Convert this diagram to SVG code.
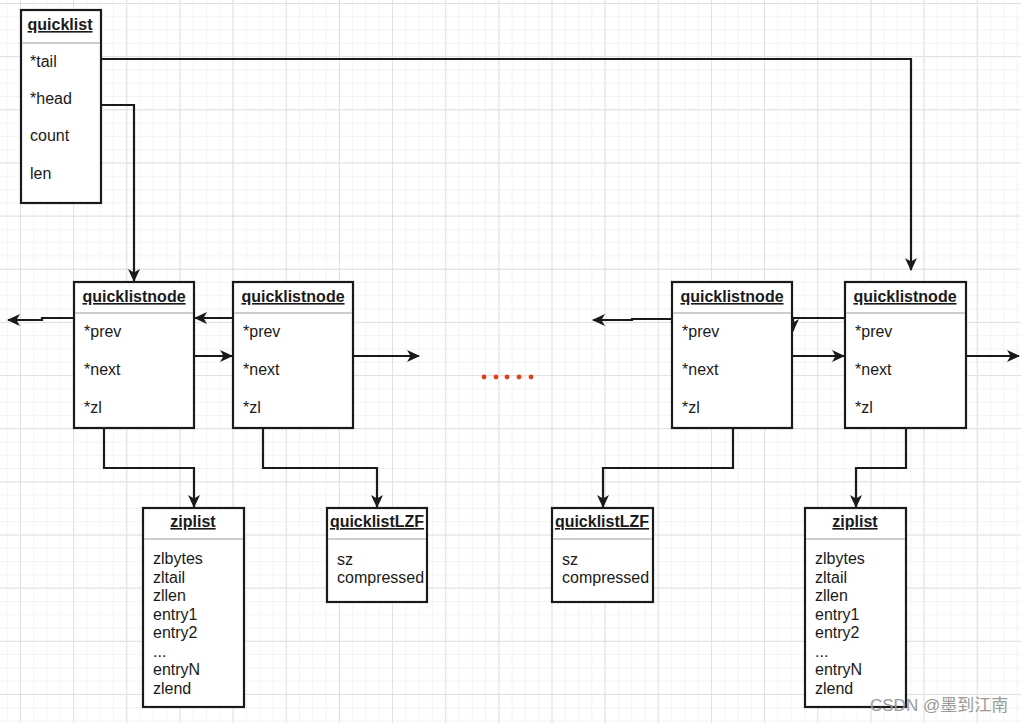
<svg xmlns="http://www.w3.org/2000/svg" width="1021" height="723" viewBox="0 0 1021 723">
<style>
.box{fill:#fff;stroke:#1a1a1a;stroke-width:2.2}
.sep{stroke:#bdbdbd;stroke-width:1.5}
.t{font-family:"Liberation Sans",Arial,sans-serif;font-size:16px;fill:#1a1a1a}
.h{font-weight:bold;text-decoration:underline;text-anchor:middle}
.c{fill:none;stroke:#1a1a1a;stroke-width:2.2}
.wm{font-family:"Liberation Sans","Noto Sans CJK SC",sans-serif;font-size:17px;fill:#9a9a9a}
</style>
<defs>
<pattern id="minor" x="20" y="3" width="13.2875" height="13.2875" patternUnits="userSpaceOnUse">
<path d="M0,0V13.2875M0,0H13.2875" stroke="#f0f0f0" stroke-width="1.5" fill="none"/>
</pattern>
<pattern id="major" x="20" y="3" width="53.15" height="53.15" patternUnits="userSpaceOnUse">
<path d="M0,0V53.15M0,0H53.15" stroke="#e0e0e0" stroke-width="2" fill="none"/>
</pattern>
<marker id="ar" markerWidth="14" markerHeight="14" refX="12" refY="7" orient="auto" markerUnits="userSpaceOnUse">
<path d="M0,1 L13,7 L0,13 L3.5,7 Z" fill="#1a1a1a"/>
</marker>
</defs>
<rect width="1021" height="723" fill="#fff"/>
<rect width="1021" height="723" fill="url(#minor)"/>
<rect width="1021" height="723" fill="url(#major)"/>

<g id="connectors">
<path class="c" d="M101,59 H911 V270" marker-end="url(#ar)"/>
<path class="c" d="M101,105 H134 V281" marker-end="url(#ar)"/>
<path class="c" d="M74,318 H42 V320 H8" marker-end="url(#ar)"/>
<path class="c" d="M233,318 H195" marker-end="url(#ar)"/>
<path class="c" d="M194,356 H232" marker-end="url(#ar)"/>
<path class="c" d="M353,356 H419" marker-end="url(#ar)"/>
<path class="c" d="M672,319 H632 V320 H593" marker-end="url(#ar)"/>
<path class="c" d="M845,318 H793 V331" marker-end="url(#ar)"/>
<path class="c" d="M792,356 H844" marker-end="url(#ar)"/>
<path class="c" d="M966,356 H1019" marker-end="url(#ar)"/>
<path class="c" d="M104,428 V468 H194 V507" marker-end="url(#ar)"/>
<path class="c" d="M263,428 V468 H377 V507" marker-end="url(#ar)"/>
<path class="c" d="M733,428 V468 H603 V507" marker-end="url(#ar)"/>
<path class="c" d="M906,428 V468 H856 V507" marker-end="url(#ar)"/>
</g>

<g id="quicklist">
<rect class="box" x="21" y="10" width="80" height="193"/>
<line class="sep" x1="22" y1="43" x2="100" y2="43"/>
<text class="t h" x="60" y="30">quicklist</text>
<text class="t" x="30" y="67">*tail</text>
<text class="t" x="30" y="104">*head</text>
<text class="t" x="30" y="141">count</text>
<text class="t" x="30" y="179">len</text>
</g>

<g id="node1">
<rect class="box" x="74" y="282" width="120" height="146"/>
<line class="sep" x1="75" y1="313" x2="193" y2="313"/>
<text class="t h" x="134" y="302">quicklistnode</text>
<text class="t" x="84" y="337">*prev</text>
<text class="t" x="84" y="375">*next</text>
<text class="t" x="84" y="413">*zl</text>
</g>

<g id="node2">
<rect class="box" x="233" y="282" width="120" height="146"/>
<line class="sep" x1="234" y1="313" x2="352" y2="313"/>
<text class="t h" x="293" y="302">quicklistnode</text>
<text class="t" x="243" y="337">*prev</text>
<text class="t" x="243" y="375">*next</text>
<text class="t" x="243" y="413">*zl</text>
</g>

<g id="node3">
<rect class="box" x="672" y="282" width="120" height="146"/>
<line class="sep" x1="673" y1="313" x2="791" y2="313"/>
<text class="t h" x="732" y="302">quicklistnode</text>
<text class="t" x="682" y="337">*prev</text>
<text class="t" x="682" y="375">*next</text>
<text class="t" x="682" y="413">*zl</text>
</g>

<g id="node4">
<rect class="box" x="845" y="282" width="121" height="146"/>
<line class="sep" x1="846" y1="313" x2="965" y2="313"/>
<text class="t h" x="905" y="302">quicklistnode</text>
<text class="t" x="855" y="337">*prev</text>
<text class="t" x="855" y="375">*next</text>
<text class="t" x="855" y="413">*zl</text>
</g>

<g id="dots" fill="#e0401c">
<circle cx="484" cy="377" r="2.4"/>
<circle cx="496" cy="377" r="2.4"/>
<circle cx="507" cy="377" r="2.4"/>
<circle cx="519" cy="377" r="2.4"/>
<circle cx="531" cy="377" r="2.4"/>
</g>

<g id="ziplist1">
<rect class="box" x="143" y="508" width="101" height="199"/>
<line class="sep" x1="144" y1="539" x2="243" y2="539"/>
<text class="t h" x="193" y="527">ziplist</text>
<text class="t" x="153" y="564">zlbytes</text>
<text class="t" x="153" y="582.5">zltail</text>
<text class="t" x="153" y="601">zllen</text>
<text class="t" x="153" y="619.5">entry1</text>
<text class="t" x="153" y="638">entry2</text>
<text class="t" x="153" y="656.5">...</text>
<text class="t" x="153" y="675">entryN</text>
<text class="t" x="153" y="693.5">zlend</text>
</g>

<g id="lzf1">
<rect class="box" x="327" y="508" width="100" height="94"/>
<line class="sep" x1="328" y1="539" x2="426" y2="539"/>
<text class="t h" x="377" y="527">quicklistLZF</text>
<text class="t" x="337" y="565">sz</text>
<text class="t" x="337" y="583">compressed</text>
</g>

<g id="lzf2">
<rect class="box" x="552" y="508" width="101" height="94"/>
<line class="sep" x1="553" y1="539" x2="652" y2="539"/>
<text class="t h" x="602" y="527">quicklistLZF</text>
<text class="t" x="562" y="565">sz</text>
<text class="t" x="562" y="583">compressed</text>
</g>

<g id="ziplist2">
<rect class="box" x="805" y="508" width="101" height="199"/>
<line class="sep" x1="806" y1="539" x2="905" y2="539"/>
<text class="t h" x="855" y="527">ziplist</text>
<text class="t" x="815" y="564">zlbytes</text>
<text class="t" x="815" y="582.5">zltail</text>
<text class="t" x="815" y="601">zllen</text>
<text class="t" x="815" y="619.5">entry1</text>
<text class="t" x="815" y="638">entry2</text>
<text class="t" x="815" y="656.5">...</text>
<text class="t" x="815" y="675">entryN</text>
<text class="t" x="815" y="693.5">zlend</text>
</g>

<text class="wm" x="870" y="711">CSDN @墨到江南</text>
</svg>
